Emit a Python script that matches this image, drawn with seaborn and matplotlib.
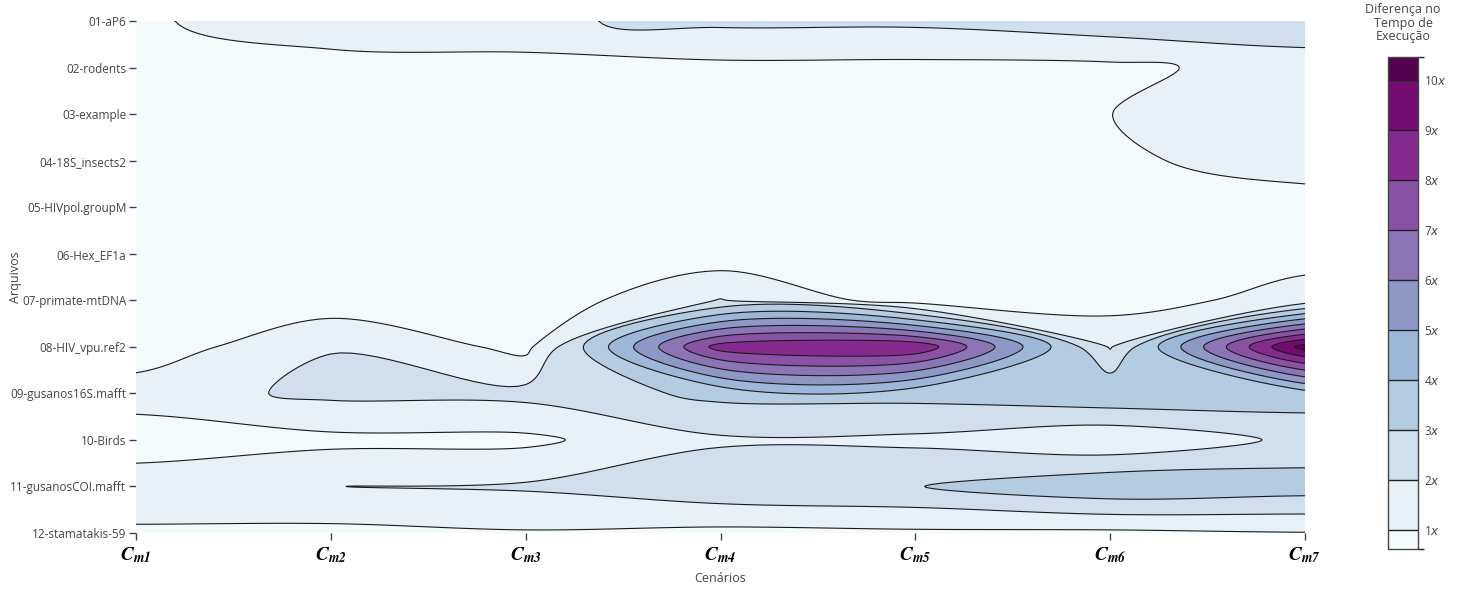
import numpy as np
import matplotlib
matplotlib.use("Agg")
import matplotlib.pyplot as plt
from matplotlib.path import Path
from matplotlib.patches import PathPatch
from matplotlib.colors import ListedColormap, BoundaryNorm
from matplotlib.cm import ScalarMappable
import contourpy
import seaborn as sns

# arquivos (linhas) e cenarios (colunas)
arquivos = ["01-aP6", "02-rodents", "03-example", "04-18S_insects2",
            "05-HIVpol.groupM", "06-Hex_EF1a", "07-primate-mtDNA",
            "08-HIV_vpu.ref2", "09-gusanos16S.mafft", "10-Birds",
            "11-gusanosCOI.mafft", "12-stamatakis-59"]
cenarios = ["m1", "m2", "m3", "m4", "m5", "m6", "m7"]

# diferenca no tempo de execucao por arquivo, um vetor por cenario
cm1 = [0.90, 0.60, 0.50, 0.50, 0.50, 0.45, 0.45, 0.33, 1.53, 0.35, 1.65, 0.85]
cm2 = [1.40, 0.74, 0.50, 0.50, 0.50, 0.45, 0.39, 1.96, 2.22, 0.75, 1.99, 0.75]
cm3 = [1.88, 0.57, 0.50, 0.50, 0.50, 0.40, 0.30, 0.71, 2.30, 0.78, 2.12, 0.92]
cm4 = [2.20, 0.77, 0.50, 0.50, 0.45, 0.40, 2.05, 8.46, 3.27, 1.86, 2.74, 0.74]
cm5 = [2.20, 0.75, 0.50, 0.50, 0.45, 0.40, 0.50, 8.84, 3.33, 1.80, 2.96, 0.83]
cm6 = [2.63, 0.78, 0.995, 0.88, 0.60, 0.50, 0.55, 1.90, 3.85, 1.15, 3.80, 0.80]
cm7 = [2.80, 1.40, 1.40, 1.30, 0.70, 0.66, 1.40, 10.46, 3.55, 2.24, 3.51, 0.96]

niveis = list(range(1, 11))
z_min, z_max = 0.62, 10.46

sns.set_theme(style="white")
plt.rcParams["font.family"] = ["Open Sans", "DejaVu Sans"]
cinza = "#444444"

Z = np.array([cm1, cm2, cm3, cm4, cm5, cm6, cm7]).T  # linhas = arquivos
ny, nx = Z.shape

# borda extra (valores repetidos) para as linhas sairem do quadro
pad = 2
Zp = np.pad(Z, pad, mode="edge")
xp = np.arange(-pad, nx + pad, dtype=float)
yp = np.arange(-pad, ny + pad, dtype=float)
gen = contourpy.contour_generator(xp, yp, Zp, fill_type="OuterCode")

# razao de aspecto da celula em pixels (para suavizar de forma isotropica)
esc = (1305 - 136) / (nx - 1) / ((533 - 21) / (ny - 1))


def suaviza(anel, n=16):
    # catmull-rom centripeta fechada passando pelos vertices do contorno
    p = anel * [esc, 1.0]
    m = len(p)
    out = []
    for i in range(m):
        p0, p1, p2, p3 = p[i - 1], p[i], p[(i + 1) % m], p[(i + 2) % m]
        t1 = max(np.hypot(*(p1 - p0)), 1e-6) ** 0.5
        t2 = t1 + max(np.hypot(*(p2 - p1)), 1e-6) ** 0.5
        t3 = t2 + max(np.hypot(*(p3 - p2)), 1e-6) ** 0.5
        t0 = 0.0
        t = np.linspace(t1, t2, n, endpoint=False)[:, None]
        a1 = (t1 - t) / (t1 - t0) * p0 + (t - t0) / (t1 - t0) * p1
        a2 = (t2 - t) / (t2 - t1) * p1 + (t - t1) / (t2 - t1) * p2
        a3 = (t3 - t) / (t3 - t2) * p2 + (t - t2) / (t3 - t2) * p3
        b1 = (t2 - t) / (t2 - t0) * a1 + (t - t0) / (t2 - t0) * a2
        b2 = (t3 - t) / (t3 - t1) * a2 + (t - t1) / (t3 - t1) * a3
        out.append((t2 - t) / (t2 - t1) * b1 + (t - t1) / (t2 - t1) * b2)
    return np.vstack(out) / [esc, 1.0]


def caminho(nivel):
    pontos, codigos = gen.filled(nivel, Zp.max() + 1)
    verts, codes = [], []
    for pts, cod in zip(pontos, codigos):
        inicio = list(np.flatnonzero(cod == 1)) + [len(cod)]
        for a, b in zip(inicio[:-1], inicio[1:]):
            anel = pts[a:b]
            if cod[b - 1] == 79:
                anel = anel[:-1]
            prox = np.roll(anel, -1, axis=0)
            anel = anel[np.hypot(*(prox - anel).T) > 1e-9]
            if len(anel) < 3:
                continue
            s = suaviza(anel)
            verts += [s, s[:1]]
            codes += [Path.MOVETO] + [Path.LINETO] * (len(s) - 1) + [Path.CLOSEPOLY]
    return Path(np.vstack(verts), codes) if verts else None


cmap = sns.color_palette("BuPu", as_cmap=True)
limites = [z_min] + niveis + [z_max]
meios = [(a + b) / 2 for a, b in zip(limites[:-1], limites[1:])]
cores = [cmap((m - z_min) / (z_max - z_min)) for m in meios]

fig = plt.figure(figsize=(14.72, 5.89), dpi=100)
ax = fig.add_axes([136 / 1472, 1 - 533 / 589, (1305 - 136) / 1472, (533 - 21) / 589])
ax.set_facecolor(cores[0])

caminhos = [caminho(n) for n in niveis]
for cor, cam in zip(cores[1:], caminhos):
    if cam is not None:
        ax.add_patch(PathPatch(cam, facecolor=cor, edgecolor="none", lw=0))
for cam in caminhos:
    if cam is not None:
        ax.add_patch(PathPatch(cam, facecolor="none", edgecolor="#1a1a1a", lw=0.8))

ax.set_xlim(0, nx - 1)
ax.set_ylim(ny - 1, 0)
ax.set_xticks(range(nx))
ax.set_xticklabels([r"$\mathbfit{C}_{\mathbfit{%s}}$" % c for c in cenarios],
                   fontsize=14, color="black")
for t in ax.get_xticklabels():
    t.set_math_fontfamily("stix")
ax.set_yticks(range(ny))
ax.set_yticklabels(arquivos, fontsize=8.5, color=cinza)
ax.tick_params(axis="both", direction="out", length=5, width=1, color=cinza,
               left=True, bottom=True, pad=2)
ax.tick_params(axis="x", pad=4)
for s in ax.spines.values():
    s.set_visible(False)

fig.text(15 / 1472, 1 - 277 / 589, "Arquivos", rotation=90, ha="center",
         va="center", fontsize=9, color=cinza)
fig.text(720 / 1472, 1 - 578 / 589, "Cenários", ha="center", va="center",
         fontsize=9, color=cinza)

# barra de cores
cax = fig.add_axes([1388 / 1472, 1 - 549 / 589, 30 / 1472, (549 - 57) / 589])
sm = ScalarMappable(norm=BoundaryNorm(limites, len(cores)), cmap=ListedColormap(cores))
cb = fig.colorbar(sm, cax=cax, boundaries=limites, ticks=niveis,
                  spacing="proportional", drawedges=True)
cb.set_ticklabels([f"{n}$x$" for n in niveis])
cb.ax.tick_params(length=0, labelsize=8.5, colors=cinza, pad=4)
cb.outline.set_edgecolor(cinza)
cb.outline.set_linewidth(1)
cb.dividers.set_color("#222222")
cb.dividers.set_linewidth(1)
fig.text(1403 / 1472, 1 - 3 / 589, "Diferença no\nTempo de\nExecução",
         ha="center", va="top", fontsize=9, color=cinza, linespacing=1.05)

fig.savefig("out.png", dpi=100)
